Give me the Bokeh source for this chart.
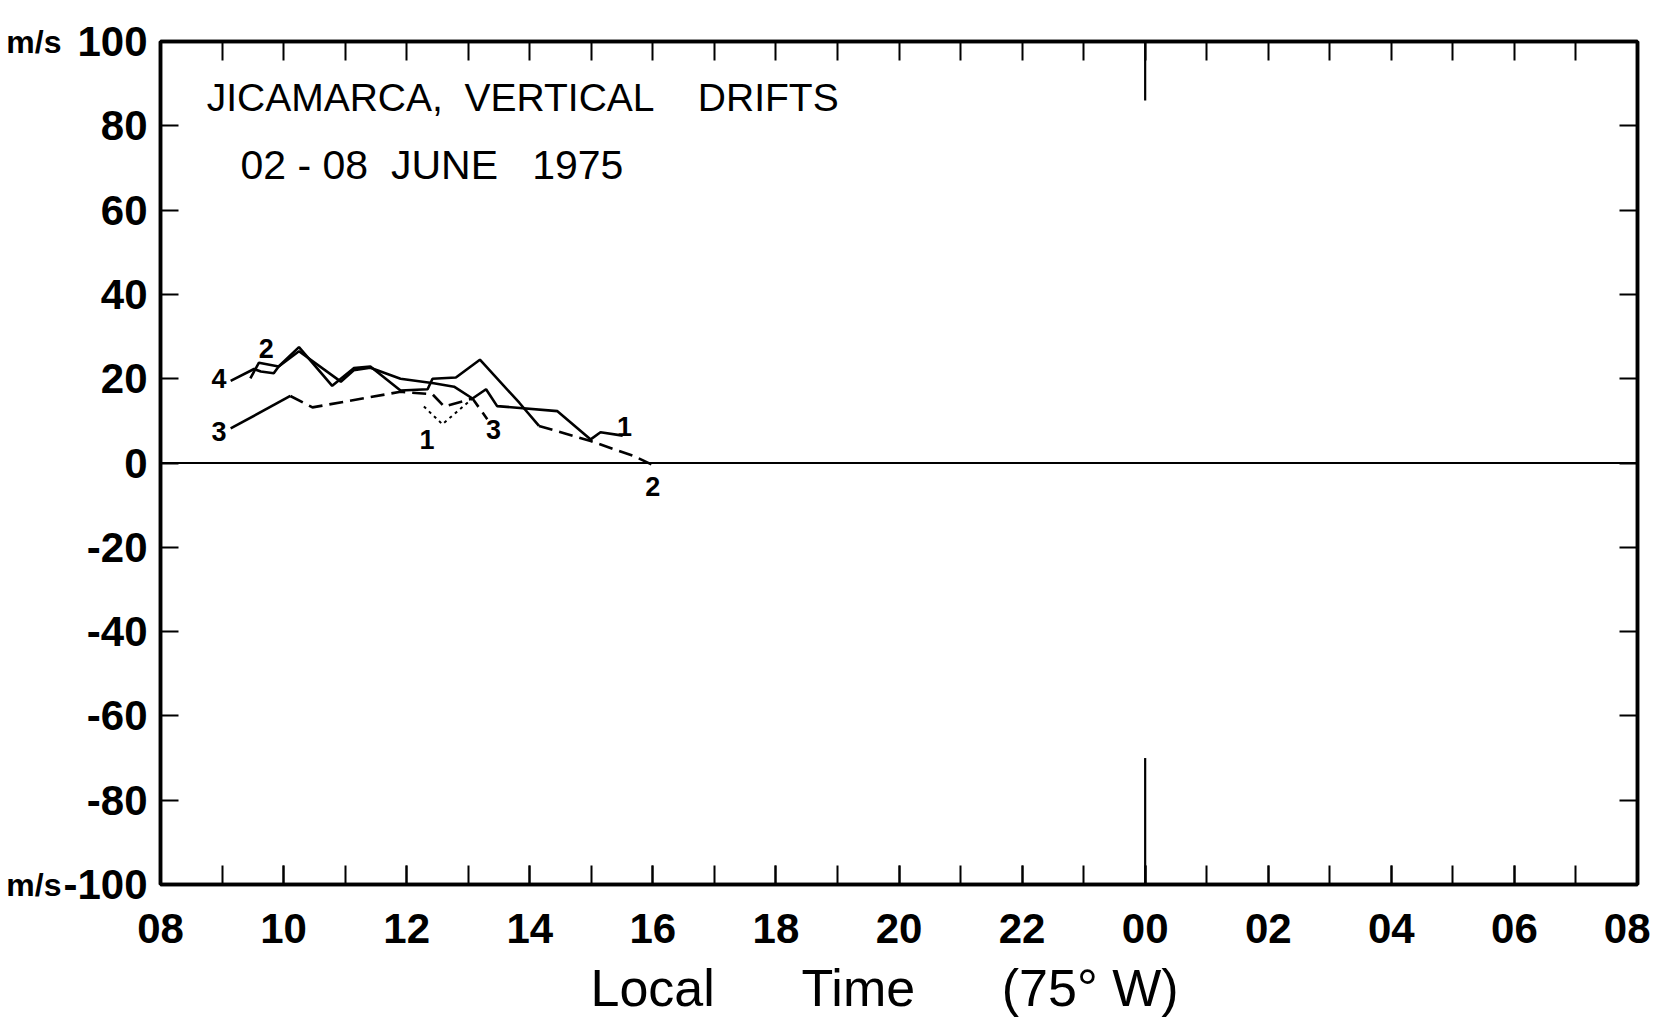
from bokeh.plotting import figure
from bokeh.models import Range1d, LinearAxis, FixedTicker, Span, Label
from bokeh.core.properties import value
from bokeh.embed import file_html
from bokeh.resources import INLINE

# ---- data (local time in hours, 08 -> 32 == next day 08; drift in m/s) ----
c4_h = [9.14, 9.52, 9.63, 9.84, 9.92, 10.25, 10.93, 11.14, 11.41, 11.90, 12.44, 12.77, 13.07]
c4_v = [19.5, 22.3, 21.7, 21.3, 22.9, 26.5, 19.3, 22.0, 22.6, 20.0, 18.9, 18.1, 15.3]

c2_solid_h = [9.46, 9.60, 9.92, 10.25, 10.79, 11.14, 11.41, 11.90, 12.34, 12.42, 12.80, 13.19, 13.83, 14.15]
c2_solid_v = [20.1, 23.8, 22.9, 27.5, 18.3, 22.5, 22.9, 17.2, 17.5, 20.0, 20.3, 24.5, 14.3, 8.8]
c2_dash_h = [14.15, 14.99, 15.70, 16.0]
c2_dash_v = [8.8, 5.2, 1.6, -0.5]

c3_solid_h = [9.14, 10.11]
c3_solid_v = [8.2, 15.9]
c3_dash_h = [10.11, 10.47, 11.90, 12.42, 12.61, 13.07, 13.31]
c3_dash_v = [15.9, 13.2, 16.9, 16.3, 13.4, 15.3, 10.4]

c1_dot_h = [12.28, 12.58, 13.07]
c1_dot_v = [13.4, 9.2, 15.3]
c1_solid_h = [13.07, 13.29, 13.47, 14.45, 14.99, 15.15, 15.51]
c1_solid_v = [15.3, 17.5, 13.5, 12.3, 5.6, 7.3, 6.5]

curve_label_text = ["4", "2", "3", "1", "3", "1", "2"]
curve_label_h = [8.95, 9.72, 8.95, 12.33, 13.41, 15.54, 16.0]
curve_label_v = [20.0, 27.2, 7.4, 5.6, 7.9, 8.6, -5.6]

midnight_h = [24, 24]
midnight_top = [100, 86]
midnight_bot = [-100, -70]

hour_ticks = list(range(8, 33))
x_ticks = list(range(8, 33, 2))
x_labels = ["08", "10", "12", "14", "16", "18", "20", "22", "00", "02", "04", "06", "08"]
y_ticks = [-100, -80, -60, -40, -20, 0, 20, 40, 60, 80, 100]
y_labels = ["-100", "-80", "-60", "-40", "-20", "0", "20", "40", "60", "80", "100"]
unit_ticks = [-100, 100]
unit_labels = ["m/s", "m/s"]

FONT = "Liberation Sans"
SP = "\u00a0"

p = figure(width=1650, height=1020, output_backend="svg", toolbar_location=None,
           x_range=Range1d(8, 32), y_range=Range1d(-100, 100),
           min_border_left=160, min_border_right=13, min_border_top=41, min_border_bottom=136)
p.background_fill_color = "white"
p.border_fill_color = "white"
p.grid.visible = False
p.outline_line_color = "black"
p.outline_line_width = 3.5

# bottom axis
xa = p.xaxis[0]
xa.ticker = FixedTicker(ticks=x_ticks, minor_ticks=hour_ticks)
xa.major_label_overrides = {t: l for t, l in zip(x_ticks, x_labels)}
xa.major_tick_in = 19
xa.major_tick_out = 0
xa.minor_tick_in = 19
xa.minor_tick_out = 0
xa.major_tick_line_width = 2
xa.minor_tick_line_width = 2
xa.minor_tick_line_color = "black"
xa.axis_line_width = 3.5
xa.major_label_standoff = 29
xa.major_label_text_font = FONT
xa.major_label_text_font_style = "bold"
xa.major_label_text_font_size = "42px"
xa.major_label_text_color = "black"
xa.axis_label = "Local" + SP * 6 + "Time" + SP * 6 + "(75° W)" + SP * 2
xa.axis_label_text_font = FONT
xa.axis_label_text_font_style = "normal"
xa.axis_label_text_font_size = "52px"
xa.axis_label_text_color = "black"
xa.axis_label_standoff = 13

# left axis
ya = p.yaxis[0]
ya.ticker = FixedTicker(ticks=y_ticks)
ya.major_label_overrides = {t: l for t, l in zip(y_ticks, y_labels)}
ya.major_tick_in = 18
ya.major_tick_out = 0
ya.minor_tick_line_color = None
ya.major_tick_line_width = 2
ya.axis_line_width = 3.5
ya.major_label_standoff = 13
ya.major_label_text_font = FONT
ya.major_label_text_font_style = "bold"
ya.major_label_text_font_size = "42px"
ya.major_label_text_color = "black"

# unit labels (m/s) to the left of the +-100 labels
ua = LinearAxis(ticker=FixedTicker(ticks=unit_ticks),
                major_label_overrides={t: l for t, l in zip(unit_ticks, unit_labels)},
                axis_line_color=None, major_tick_line_color=None, minor_tick_line_color=None,
                major_tick_in=0, major_tick_out=0, major_label_standoff=-1,
                major_label_text_font=FONT, major_label_text_font_style="bold",
                major_label_text_font_size="32px", major_label_text_color="black")
p.add_layout(ua, "left")

# top axis (hour ticks only)
ta = LinearAxis(ticker=FixedTicker(ticks=[], minor_ticks=hour_ticks), minor_tick_in=19, minor_tick_out=0,
                minor_tick_line_width=2, minor_tick_line_color="black", major_tick_line_color=None,
                axis_line_width=3.5)
p.add_layout(ta, "above")
# right axis (ticks only)
ra = LinearAxis(ticker=FixedTicker(ticks=[], minor_ticks=y_ticks), minor_tick_in=18, minor_tick_out=0,
                minor_tick_line_width=2, minor_tick_line_color="black", major_tick_line_color=None,
                axis_line_width=3.5)
p.add_layout(ra, "right")

# zero line
p.add_layout(Span(location=0, dimension="width", line_color="black", line_width=2))

# midnight marks
p.line(midnight_h, midnight_top, line_color="black", line_width=2.2)
p.line(midnight_h, midnight_bot, line_color="black", line_width=2.2)

LW = 2.6
p.line(c4_h, c4_v, line_color="black", line_width=LW)
p.line(c2_solid_h, c2_solid_v, line_color="black", line_width=LW)
p.line(c2_dash_h, c2_dash_v, line_color="black", line_width=LW, line_dash="14 7")
p.line(c3_solid_h, c3_solid_v, line_color="black", line_width=LW)
p.line(c3_dash_h, c3_dash_v, line_color="black", line_width=LW, line_dash="14 7")
p.line(c1_dot_h, c1_dot_v, line_color="black", line_width=2, line_dash="3 4")
p.line(c1_solid_h, c1_solid_v, line_color="black", line_width=LW)

p.text(curve_label_h, curve_label_v, text=curve_label_text, text_font=value(FONT),
       text_font_style="bold", text_font_size="27px", text_align="center",
       text_baseline="middle", text_color="black")

# title block
p.add_layout(Label(x=8.75, y=86.8, text="JICAMARCA," + SP * 2 + "VERTICAL" + SP * 4 + "DRIFTS",
                   text_font=FONT, text_font_size="39px", text_color="black",
                   text_baseline="alphabetic"))
p.add_layout(Label(x=9.30, y=70.8,
                   text="02" + SP + "-" + SP + "08" + SP * 2 + "JUNE" + SP * 3 + "1975",
                   text_font=FONT, text_font_size="41px", text_color="black",
                   text_baseline="alphabetic"))

# plate number
p.add_layout(Label(x=29.7, y=-102.4, text="Nº2795-ALONT-75", text_font=FONT, text_font_style="bold",
                   text_font_size="9px", text_color="black", text_baseline="middle", level="overlay"))

open("out.html", "w").write(file_html(p, INLINE))
